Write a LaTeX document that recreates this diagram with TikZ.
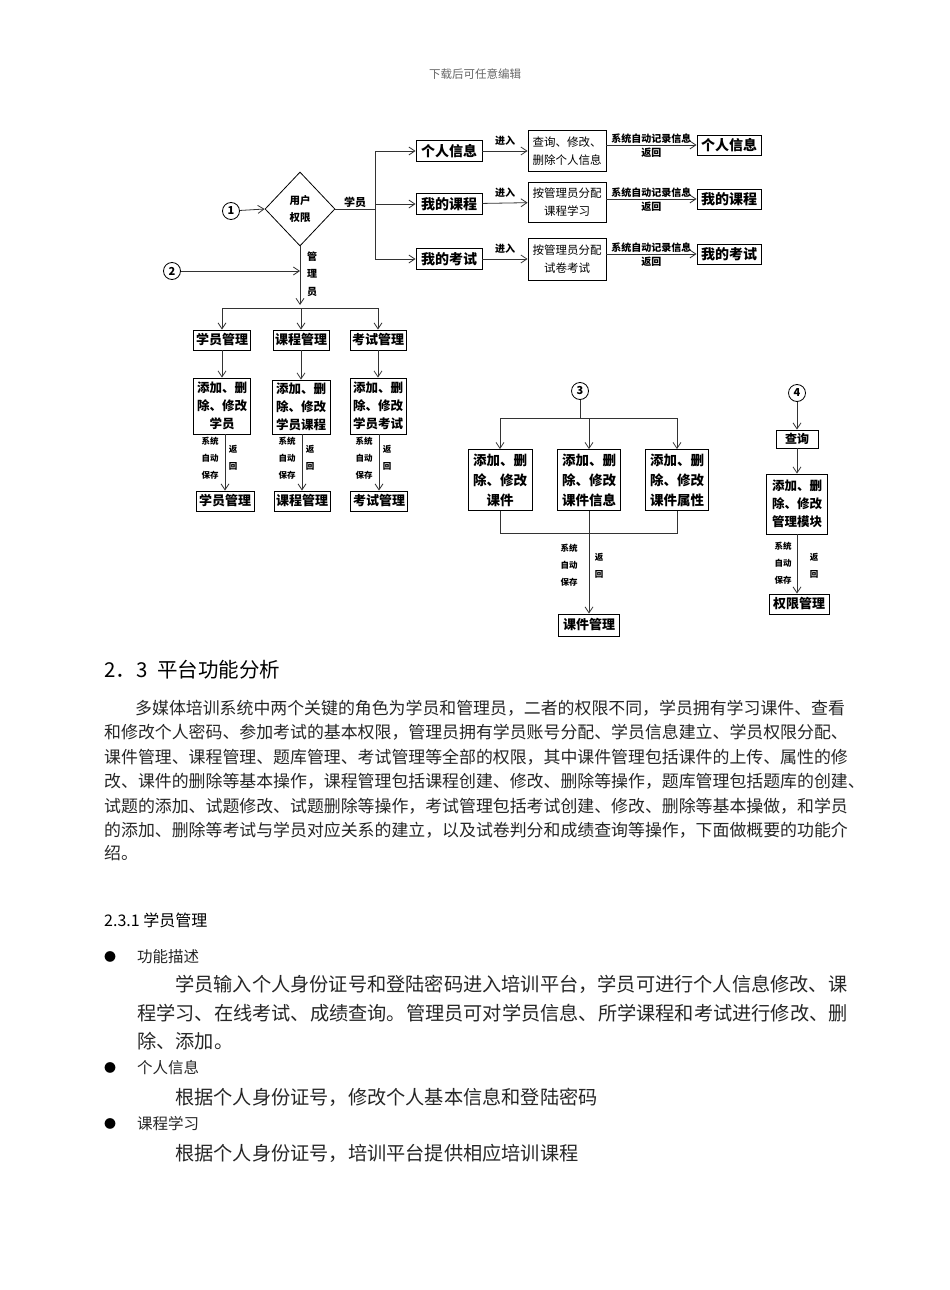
\documentclass[tikz,border=0pt]{standalone}
\usepackage{fontspec}
\setmainfont{Noto Sans CJK SC}
\usepackage{tikz}
\usetikzlibrary{arrows.meta,positioning,shapes.geometric,calc}
\newcommand{\fsz}[2]{\fontsize{#1}{#2}\selectfont}
\tikzset{
  >={Straight Barb[length=6pt,width=8pt]},
  line/.style={line width=0.8pt, draw=black!80},
  head/.style={draw, line width=0.9pt, inner sep=1pt, minimum height=21pt, font=\bfseries\fsz{14}{16}},
  sub/.style={draw, line width=0.9pt, inner sep=1pt, minimum height=20pt, font=\bfseries\fsz{13}{15}},
  act/.style={draw, line width=0.8pt, align=center, inner sep=1pt, font=\fsz{11.5}{18.5}},
  det/.style={draw, line width=0.8pt, align=center, inner sep=1pt, font=\bfseries\fsz{12.5}{18}},
  num/.style={draw, circle, line width=0.8pt, inner sep=0pt, minimum size=17pt, font=\bfseries\fsz{11}{12}},
  lbl/.style={inner sep=1pt, font=\bfseries\fsz{10}{12}},
  tiny/.style={inner sep=0pt, align=center, font=\bfseries\fsz{8.5}{17}},
  txt/.style={anchor=west, inner sep=0pt, text=black!85},
  flow/.style={line, ->},
}
\begin{document}
\begin{tikzpicture}[x=1pt, y=-1pt]
  \useasboundingbox[fill=white] (0,0) rectangle (950,1290);
  \node[txt, anchor=center, text=black!60, font=\fsz{11.5}{13}] (top) at (475,74) {下载后可任意编辑};
  % entry: user rights
  \node[num] (c1) at (231,211) {1};
  \node[draw, diamond, line width=0.8pt, minimum width=70pt, minimum height=74pt, inner sep=0pt, align=center, font=\bfseries\fsz{10.5}{17}] (auth) at (300,209) {用户\\权限};
  \draw[flow] (c1) -- (auth.west);
  \coordinate (bus) at (375,209);
  \draw[line] (auth.east) -- node[lbl, above, font=\bfseries\fsz{11}{12}]{学员} (bus);
  % student rows
  \node[head, minimum width=66pt] (pi) at (449,151) {个人信息};
  \node[head, minimum width=66pt] (pc) at (449,204) {我的课程};
  \node[head, minimum width=66pt] (pe) at (449,259) {我的考试};
  \node[act, minimum width=78pt, minimum height=41pt] (ai) at (567,151) {查询、修改、\\删除个人信息};
  \node[act, minimum width=78pt, minimum height=40pt] (ac) at (567,202) {按管理员分配\\课程学习};
  \node[act, minimum width=78pt, minimum height=42pt] (ae) at (567,259) {按管理员分配\\试卷考试};
  \node[head, minimum width=64pt, minimum height=20pt] (ri) at (729,145) {个人信息};
  \node[head, minimum width=64pt, minimum height=20pt] (rc) at (729,199) {我的课程};
  \node[head, minimum width=64pt, minimum height=20pt] (re) at (729,254) {我的考试};
  \draw[line] (bus |- pi) -- (bus |- pe);
  \foreach \a/\b/\r in {pi/ai/ri, pc/ac/rc, pe/ae/re} {
    \draw[flow] (bus |- \a) -- (\a);
    \draw[flow] (\a) -- node[lbl, above, yshift=4pt]{进入} (\b);
    \draw[flow] (\b.east |- \r) -- node[lbl, above]{系统自动记录信息} node[lbl, below, yshift=-2pt]{返回} (\r.west);
  }
  % administrator
  \node[num] (c2) at (172,271) {2};
  \coordinate (ab) at (300,308);
  \draw[flow] (auth.south) -- ($(ab)+(0,-3)$);
  \draw[flow] (c2) -- (c2 -| auth.south);
  \node[lbl, align=center, font=\bfseries\fsz{10}{17.5}] (adm) at (312,274) {管\\理\\员};
  \node[sub, minimum width=57pt] (sm) at (222,340) {学员管理};
  \node[sub, minimum width=56pt] (cm) at (301,340) {课程管理};
  \node[sub, minimum width=56pt] (em) at (378,340) {考试管理};
  \node[det, minimum width=57pt, minimum height=56pt] (sd) at (222,406) {添加、删\\除、修改\\学员};
  \node[det, minimum width=58pt, minimum height=54pt] (cd) at (301,407) {添加、删\\除、修改\\学员课程};
  \node[det, minimum width=56pt, minimum height=56pt] (ed) at (378,406) {添加、删\\除、修改\\学员考试};
  \node[sub, minimum width=58pt] (sb) at (225,501) {学员管理};
  \node[sub, minimum width=56pt] (cb) at (302,501) {课程管理};
  \node[sub, minimum width=57pt] (eb) at (379,501) {考试管理};
  \draw[line] (sm |- ab) -- (em |- ab);
  \foreach \t/\d/\b in {sm/sd/sb, cm/cd/cb, em/ed/eb} {
    \draw[flow] (\t |- ab) -- (\t.north);
    \draw[flow] (\t) -- (\d);
    \draw[flow] (\b |- \d.south) -- (\b.north);
    \node[tiny] at ($(\b |- 0,458)+(-15,0)$) {系统\\自动\\保存};
    \node[tiny] at ($(\b |- 0,458)+(8,0)$) {返\\回};
  }
  % courseware
  \node[num] (c3) at (580,391) {3};
  \coordinate (kb) at (580,418);
  \node[det, font=\bfseries\fsz{13.5}{20}, minimum width=64pt, minimum height=61pt] (k1) at (500,480) {添加、删\\除、修改\\课件};
  \node[det, font=\bfseries\fsz{13.5}{20}, minimum width=63pt, minimum height=61pt] (k2) at (589,480) {添加、删\\除、修改\\课件信息};
  \node[det, font=\bfseries\fsz{13.5}{20}, minimum width=63pt, minimum height=61pt] (k3) at (677,480) {添加、删\\除、修改\\课件属性};
  \node[sub, minimum width=61pt, minimum height=22pt] (kg) at (589,625) {课件管理};
  \draw[line] (c3) -- (kb);
  \draw[line] (k1 |- kb) -- (k3 |- kb);
  \foreach \k in {k1,k2,k3} \draw[flow] (\k |- kb) -- (\k.north);
  \coordinate (kj) at (589,533);
  \draw[line] (k1.south) -- (k1 |- kj) -- (k3 |- kj) -- (k3.south);
  \draw[flow] (k2.south) -- (kg.north);
  \node[tiny] at (569,565) {系统\\自动\\保存};
  \node[tiny] at (599,566) {返\\回};
  % rights
  \node[num] (c4) at (797,393) {4};
  \node[sub, minimum width=42pt, minimum height=18pt, font=\bfseries\fsz{12}{14}] (qy) at (797,439) {查询};
  \node[det, minimum width=61pt, minimum height=60pt] (mm) at (797,504) {添加、删\\除、修改\\管理模块};
  \node[sub, minimum width=60pt] (qm) at (799,604) {权限管理};
  \draw[flow] (c4) -- (qy);
  \draw[flow] (qy) -- (mm);
  \draw[flow] (mm.south) -- (mm.south |- qm.north);
  \node[tiny] at (783,563) {系统\\自动\\保存};
  \node[tiny] at (814,566) {返\\回};
  % text below
  \node[txt, text=black, font=\fsz{20.5}{22}] (h23) at (104,670) {2．3\hspace{10pt}平台功能分析};
  \node[txt, font=\fsz{16.9}{18}] (p1) at (135,708) {多媒体培训系统中两个关键的角色为学员和管理员，二者的权限不同，学员拥有学习课件、查看};
  \node[txt, font=\fsz{16.9}{18}] (p2) at (104,732) {和修改个人密码、参加考试的基本权限，管理员拥有学员账号分配、学员信息建立、学员权限分配、};
  \node[txt, font=\fsz{16.9}{18}] (p3) at (104,757) {课件管理、课程管理、题库管理、考试管理等全部的权限，其中课件管理包括课件的上传、属性的修};
  \node[txt, font=\fsz{16.9}{18}] (p4) at (104,781) {改、课件的删除等基本操作，课程管理包括课程创建、修改、删除等操作，题库管理包括题库的创建、};
  \node[txt, font=\fsz{16.9}{18}] (p5) at (104,806) {试题的添加、试题修改、试题删除等操作，考试管理包括考试创建、修改、删除等基本操做，和学员};
  \node[txt, font=\fsz{16.9}{18}] (p6) at (104,830) {的添加、删除等考试与学员对应关系的建立，以及试卷判分和成绩查询等操作，下面做概要的功能介};
  \node[txt, font=\fsz{16.9}{18}] (p7) at (104,853) {绍。};
  \node[txt, text=black, font=\fsz{16}{18}] (h231) at (104,920) {2.3.1 学员管理};
  \foreach \y/\t [count=\i] in {957/功能描述, 1068/个人信息, 1124/课程学习} {
    \node[txt, text=black, font=\fsz{12}{14}] (dot\i) at (104,\y) {●};
    \node[txt, font=\fsz{15.5}{17}] (b\i) at (137,\y) {\t};
  }
  \node[txt, font=\fsz{19.2}{21}] (q1) at (175,984) {学员输入个人身份证号和登陆密码进入培训平台，学员可进行个人信息修改、课};
  \node[txt, font=\fsz{19.2}{21}] (q2) at (137,1013) {程学习、在线考试、成绩查询。管理员可对学员信息、所学课程和考试进行修改、删};
  \node[txt, font=\fsz{19.2}{21}] (q3) at (137,1041) {除、添加。};
  \node[txt, font=\fsz{19.2}{21}] (q4) at (175,1097) {根据个人身份证号，修改个人基本信息和登陆密码};
  \node[txt, font=\fsz{19.2}{21}] (q5) at (175,1153) {根据个人身份证号，培训平台提供相应培训课程};
\end{tikzpicture}
\end{document}
